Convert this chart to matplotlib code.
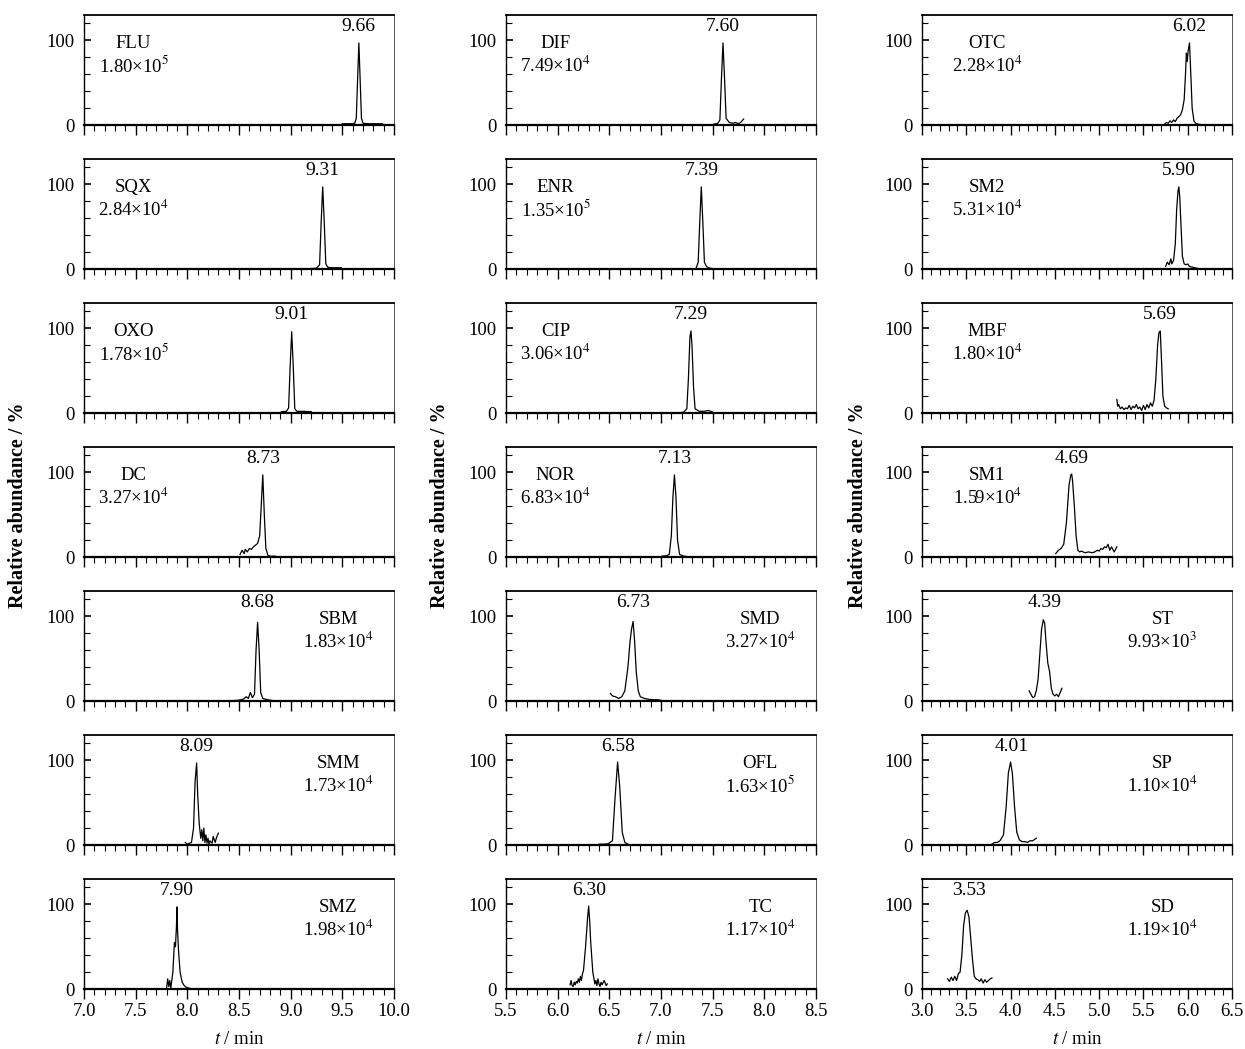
import matplotlib
matplotlib.use('Agg')
import matplotlib.pyplot as plt
from matplotlib.ticker import MultipleLocator, FixedLocator, NullFormatter

plt.rcParams['font.family'] = ['Liberation Serif', 'DejaVu Serif']
plt.rcParams['mathtext.fontset'] = 'stix'

# ---------------- data ----------------
# column 1 (7.0 - 10.0 min)
t_FLU = [9.50, 9.58, 9.62, 9.635, 9.648, 9.66, 9.672, 9.685, 9.70, 9.75, 9.82, 9.89]
y_FLU = [1.5, 1.5, 2, 8, 55, 97, 55, 8, 2, 1.5, 1.5, 1.5]
t_SQX = [9.20, 9.25, 9.28, 9.295, 9.31, 9.325, 9.34, 9.36, 9.40, 9.49]
y_SQX = [0.5, 1, 5, 55, 97, 55, 6, 2, 1.5, 1.5]
t_OXO = [8.91, 8.96, 8.98, 8.995, 9.01, 9.025, 9.04, 9.06, 9.12, 9.20]
y_OXO = [1.5, 2, 6, 55, 96, 55, 5, 2, 2, 1.5]
t_DC = [8.51, 8.53, 8.55, 8.56, 8.58, 8.60, 8.62, 8.64, 8.66, 8.68, 8.70, 8.715, 8.73, 8.745, 8.76, 8.78, 8.80, 8.85]
y_DC = [3, 8, 4, 9, 6, 10, 9, 12, 14, 16, 25, 60, 97, 50, 10, 2, 1, 1]
t_SBM = [8.45, 8.50, 8.54, 8.57, 8.59, 8.61, 8.63, 8.65, 8.665, 8.68, 8.695, 8.71, 8.73, 8.76, 8.80, 8.83]
y_SBM = [0.5, 1, 2, 5, 3, 10, 4, 8, 60, 93, 60, 10, 3, 2, 1, 0.5]
t_SMM = [7.98, 8.00, 8.02, 8.04, 8.06, 8.075, 8.09, 8.10, 8.115, 8.13, 8.14, 8.15, 8.16, 8.17,
         8.18, 8.19, 8.20, 8.21, 8.22, 8.24, 8.25, 8.27, 8.28, 8.30]
y_SMM = [3, 1, 2, 3, 20, 75, 97, 60, 25, 8, 18, 5, 20, 3, 12, 2, 8, 1, 5, 2, 10, 3, 8, 14]
t_SMZ = [7.80, 7.81, 7.82, 7.83, 7.84, 7.86, 7.875, 7.885, 7.895, 7.90, 7.905, 7.915, 7.93, 7.95, 7.97, 7.99, 8.02]
y_SMZ = [2, 12, 3, 10, 1, 20, 55, 50, 75, 97, 70, 45, 20, 8, 4, 2, 1]

# column 2 (5.5 - 8.5 min)
t_DIF = [7.51, 7.55, 7.57, 7.585, 7.60, 7.615, 7.63, 7.66, 7.70, 7.72, 7.75, 7.77, 7.80]
y_DIF = [1, 2, 6, 55, 97, 55, 8, 3, 2, 3, 1.5, 3, 7]
t_ENR = [7.34, 7.36, 7.375, 7.39, 7.405, 7.42, 7.44, 7.47, 7.50]
y_ENR = [1, 8, 55, 97, 55, 8, 3, 1, 0.5]
t_CIP = [7.19, 7.22, 7.25, 7.265, 7.28, 7.29, 7.30, 7.315, 7.33, 7.37, 7.42, 7.46, 7.50]
y_CIP = [0.5, 1, 5, 40, 90, 97, 80, 30, 5, 2, 2, 3, 1]
t_NOR = [7.01, 7.05, 7.08, 7.10, 7.115, 7.13, 7.145, 7.16, 7.18, 7.22, 7.25]
y_NOR = [1, 1.5, 3, 25, 70, 97, 70, 20, 3, 1, 0.5]
t_SMD = [6.51, 6.53, 6.56, 6.59, 6.62, 6.65, 6.68, 6.70, 6.715, 6.73, 6.745, 6.76, 6.78, 6.80,
         6.84, 6.88, 6.93, 6.97, 7.01]
y_SMD = [9, 6, 5, 3, 5, 12, 40, 70, 85, 94, 70, 35, 12, 5, 3, 2, 1.5, 1.5, 0.5]
t_OFL = [6.40, 6.45, 6.49, 6.53, 6.555, 6.58, 6.60, 6.625, 6.65, 6.68, 6.69]
y_OFL = [1, 1, 1.5, 5, 55, 98, 70, 15, 3, 1, 0.5]
t_TC = [6.12, 6.13, 6.14, 6.15, 6.16, 6.17, 6.18, 6.19, 6.20, 6.21, 6.22, 6.23, 6.24, 6.25, 6.27,
        6.29, 6.30, 6.31, 6.32, 6.34, 6.36, 6.37, 6.38, 6.39, 6.40, 6.41, 6.42, 6.43, 6.45, 6.47, 6.48]
y_TC = [5, 10, 4, 3, 8, 5, 9, 7, 12, 8, 15, 10, 18, 22, 50, 85, 98, 80, 55, 20, 6, 10, 4, 12, 6,
        3, 8, 5, 10, 4, 6]

# column 3 (3.0 - 6.5 min)
t_OTC = [5.74, 5.76, 5.78, 5.80, 5.82, 5.84, 5.86, 5.88, 5.90, 5.92, 5.94, 5.96, 5.975, 5.985,
         5.995, 6.005, 6.02, 6.035, 6.05, 6.07, 6.09, 6.12, 6.15]
y_OTC = [1, 3, 2, 5, 3, 6, 4, 8, 10, 12, 18, 30, 60, 85, 75, 88, 97, 60, 20, 5, 2, 1, 0.5]
t_SM2 = [5.75, 5.77, 5.79, 5.81, 5.82, 5.84, 5.86, 5.875, 5.89, 5.90, 5.91, 5.925, 5.94, 5.96,
         5.98, 6.00, 6.02, 6.06, 6.10, 6.14]
y_SM2 = [3, 8, 5, 12, 6, 10, 30, 70, 92, 97, 85, 50, 15, 6, 5, 6, 3, 2, 1, 0]
t_MBF = [5.20, 5.21, 5.22, 5.24, 5.26, 5.28, 5.30, 5.32, 5.34, 5.36, 5.38, 5.40, 5.42, 5.44,
         5.46, 5.48, 5.50, 5.52, 5.54, 5.56, 5.58, 5.60, 5.62, 5.64, 5.66, 5.675, 5.69, 5.705,
         5.72, 5.74, 5.76, 5.78]
y_MBF = [16, 8, 10, 5, 7, 4, 6, 5, 9, 4, 8, 6, 10, 5, 7, 3, 9, 4, 10, 6, 12, 8, 15, 40, 80, 95,
         97, 60, 20, 8, 6, 5]
t_SM1 = [4.51, 4.54, 4.57, 4.60, 4.63, 4.66, 4.68, 4.69, 4.70, 4.72, 4.74, 4.76, 4.78, 4.80,
         4.84, 4.88, 4.92, 4.95, 4.98, 5.00, 5.02, 5.04, 5.06, 5.08, 5.10, 5.12, 5.14, 5.17, 5.20]
y_SM1 = [4, 8, 10, 15, 40, 85, 97, 98, 90, 60, 25, 8, 6, 7, 5, 6, 5, 6, 8, 7, 10, 9, 12, 11,
         15, 8, 12, 6, 12]
t_ST = [4.21, 4.23, 4.25, 4.27, 4.29, 4.31, 4.33, 4.35, 4.37, 4.385, 4.40, 4.42, 4.44, 4.46,
        4.48, 4.50, 4.52, 4.54, 4.56, 4.58]
y_ST = [12, 8, 4, 5, 12, 25, 55, 85, 96, 92, 70, 45, 35, 15, 8, 6, 8, 5, 10, 15]
t_SP = [3.79, 3.82, 3.85, 3.88, 3.92, 3.95, 3.975, 4.00, 4.02, 4.045, 4.07, 4.10, 4.13, 4.16,
        4.19, 4.22, 4.25, 4.29]
y_SP = [1, 3, 3, 5, 12, 45, 85, 98, 85, 45, 15, 6, 4, 4, 3, 5, 5, 8]
t_SD = [3.29, 3.31, 3.33, 3.35, 3.37, 3.39, 3.41, 3.43, 3.45, 3.47, 3.49, 3.51, 3.53, 3.55,
        3.57, 3.59, 3.61, 3.63, 3.65, 3.67, 3.69, 3.71, 3.73, 3.75, 3.77, 3.79]
y_SD = [12, 9, 14, 10, 15, 10, 18, 20, 40, 75, 90, 93, 85, 60, 35, 15, 12, 11, 9, 12, 7, 11, 8,
        10, 12, 13]

names = [['FLU', 'SQX', 'OXO', 'DC', 'SBM', 'SMM', 'SMZ'],
         ['DIF', 'ENR', 'CIP', 'NOR', 'SMD', 'OFL', 'TC'],
         ['OTC', 'SM2', 'MBF', 'SM1', 'ST', 'SP', 'SD']]
retention = [['9.66', '9.31', '9.01', '8.73', '8.68', '8.09', '7.90'],
             ['7.60', '7.39', '7.29', '7.13', '6.73', '6.58', '6.30'],
             ['6.02', '5.90', '5.69', '4.69', '4.39', '4.01', '3.53']]
mantissa = [['1.80', '2.84', '1.78', '3.27', '1.83', '1.73', '1.98'],
            ['7.49', '1.35', '3.06', '6.83', '3.27', '1.63', '1.17'],
            ['2.28', '5.31', '1.80', '1.59', '9.93', '1.10', '1.19']]
exponent = [[5, 4, 5, 4, 4, 4, 4],
            [4, 5, 4, 4, 4, 5, 4],
            [4, 4, 4, 4, 3, 4, 4]]
label_side = ['L', 'L', 'L', 'L', 'R', 'R', 'R']
xlims = [(7.0, 10.0), (5.5, 8.5), (3.0, 6.5)]
xtick_labels = [['7.0', '7.5', '8.0', '8.5', '9.0', '9.5', '10.0'],
                ['5.5', '6.0', '6.5', '7.0', '7.5', '8.0', '8.5'],
                ['3.0', '3.5', '4.0', '4.5', '5.0', '5.5', '6.0', '6.5']]

traces = {
    'FLU': (t_FLU, y_FLU), 'SQX': (t_SQX, y_SQX), 'OXO': (t_OXO, y_OXO), 'DC': (t_DC, y_DC),
    'SBM': (t_SBM, y_SBM), 'SMM': (t_SMM, y_SMM), 'SMZ': (t_SMZ, y_SMZ),
    'DIF': (t_DIF, y_DIF), 'ENR': (t_ENR, y_ENR), 'CIP': (t_CIP, y_CIP), 'NOR': (t_NOR, y_NOR),
    'SMD': (t_SMD, y_SMD), 'OFL': (t_OFL, y_OFL), 'TC': (t_TC, y_TC),
    'OTC': (t_OTC, y_OTC), 'SM2': (t_SM2, y_SM2), 'MBF': (t_MBF, y_MBF), 'SM1': (t_SM1, y_SM1),
    'ST': (t_ST, y_ST), 'SP': (t_SP, y_SP), 'SD': (t_SD, y_SD),
}

# ---------------- layout ----------------
W, H = 1245, 1049
fig = plt.figure(figsize=(W / 100, H / 100), dpi=100)
col_left_px = [84, 506, 922]
col_w_px = 310
row_bottom_px = [125 + 144 * i for i in range(7)]
ax_h_px = 110
left_frac = {'L': [0.16, 0.16, 0.21], 'R': [0.82, 0.82, 0.775]}

FS = 13.5
FS_PEAK = 14
for c in range(3):
    ticks = [float(s) for s in xtick_labels[c]]
    for r in range(7):
        b = 1 - row_bottom_px[r] / H
        ax = fig.add_axes([col_left_px[c] / W, b, col_w_px / W, ax_h_px / H])
        name = names[c][r]
        t, y = traces[name]
        ax.plot(t, y, color='black', lw=0.9)
        ax.set_xlim(*xlims[c])
        ax.set_ylim(0, 130)
        ax.xaxis.set_major_locator(FixedLocator(ticks))
        ax.xaxis.set_minor_locator(MultipleLocator(0.1))
        ax.yaxis.set_major_locator(FixedLocator([0, 100]))
        ax.yaxis.set_minor_locator(FixedLocator([20, 40, 60, 80, 120]))
        ax.set_yticklabels(['0', '100'])
        ax.tick_params(axis='x', which='major', direction='out', length=7, width=1.0,
                       labelsize=FS, pad=3, top=False)
        ax.tick_params(axis='x', which='minor', direction='out', length=4, width=0.8, top=False)
        ax.tick_params(axis='y', which='major', direction='in', length=5, width=1.2,
                       labelsize=FS, pad=7, right=False)
        ax.tick_params(axis='y', which='minor', direction='in', length=4, width=0.8, right=False)
        if r == 6:
            ax.set_xticklabels(xtick_labels[c])
            ax.set_xlabel(r'$t$ / min', fontsize=FS, labelpad=8)
        else:
            ax.xaxis.set_major_formatter(NullFormatter())
        ax.spines['bottom'].set_linewidth(1.6)
        ax.spines['top'].set_linewidth(1.3)
        ax.spines['left'].set_linewidth(1.0)
        ax.spines['right'].set_linewidth(0.7)
        ax.spines['right'].set_color('#555555')

        rt = retention[c][r]
        ax.text(float(rt), 116, rt, ha='center', va='center', fontsize=FS_PEAK)
        xf = left_frac[label_side[r]][c]
        x0, x1 = xlims[c]
        xt = x0 + xf * (x1 - x0)
        ax.text(xt, 96, name, ha='center', va='center', fontsize=FS)
        ax.text(xt, 70, mantissa[c][r] + '×10$^{%d}$' % exponent[c][r],
                ha='center', va='center', fontsize=FS)

# y-axis labels for each column
for xpx in [18, 440, 858]:
    fig.text(xpx / W, 1 - 505 / H, 'Relative abundance / %', rotation=90,
             ha='center', va='center', fontsize=14.5, fontweight='bold')

fig.savefig('out.png', dpi=100)
